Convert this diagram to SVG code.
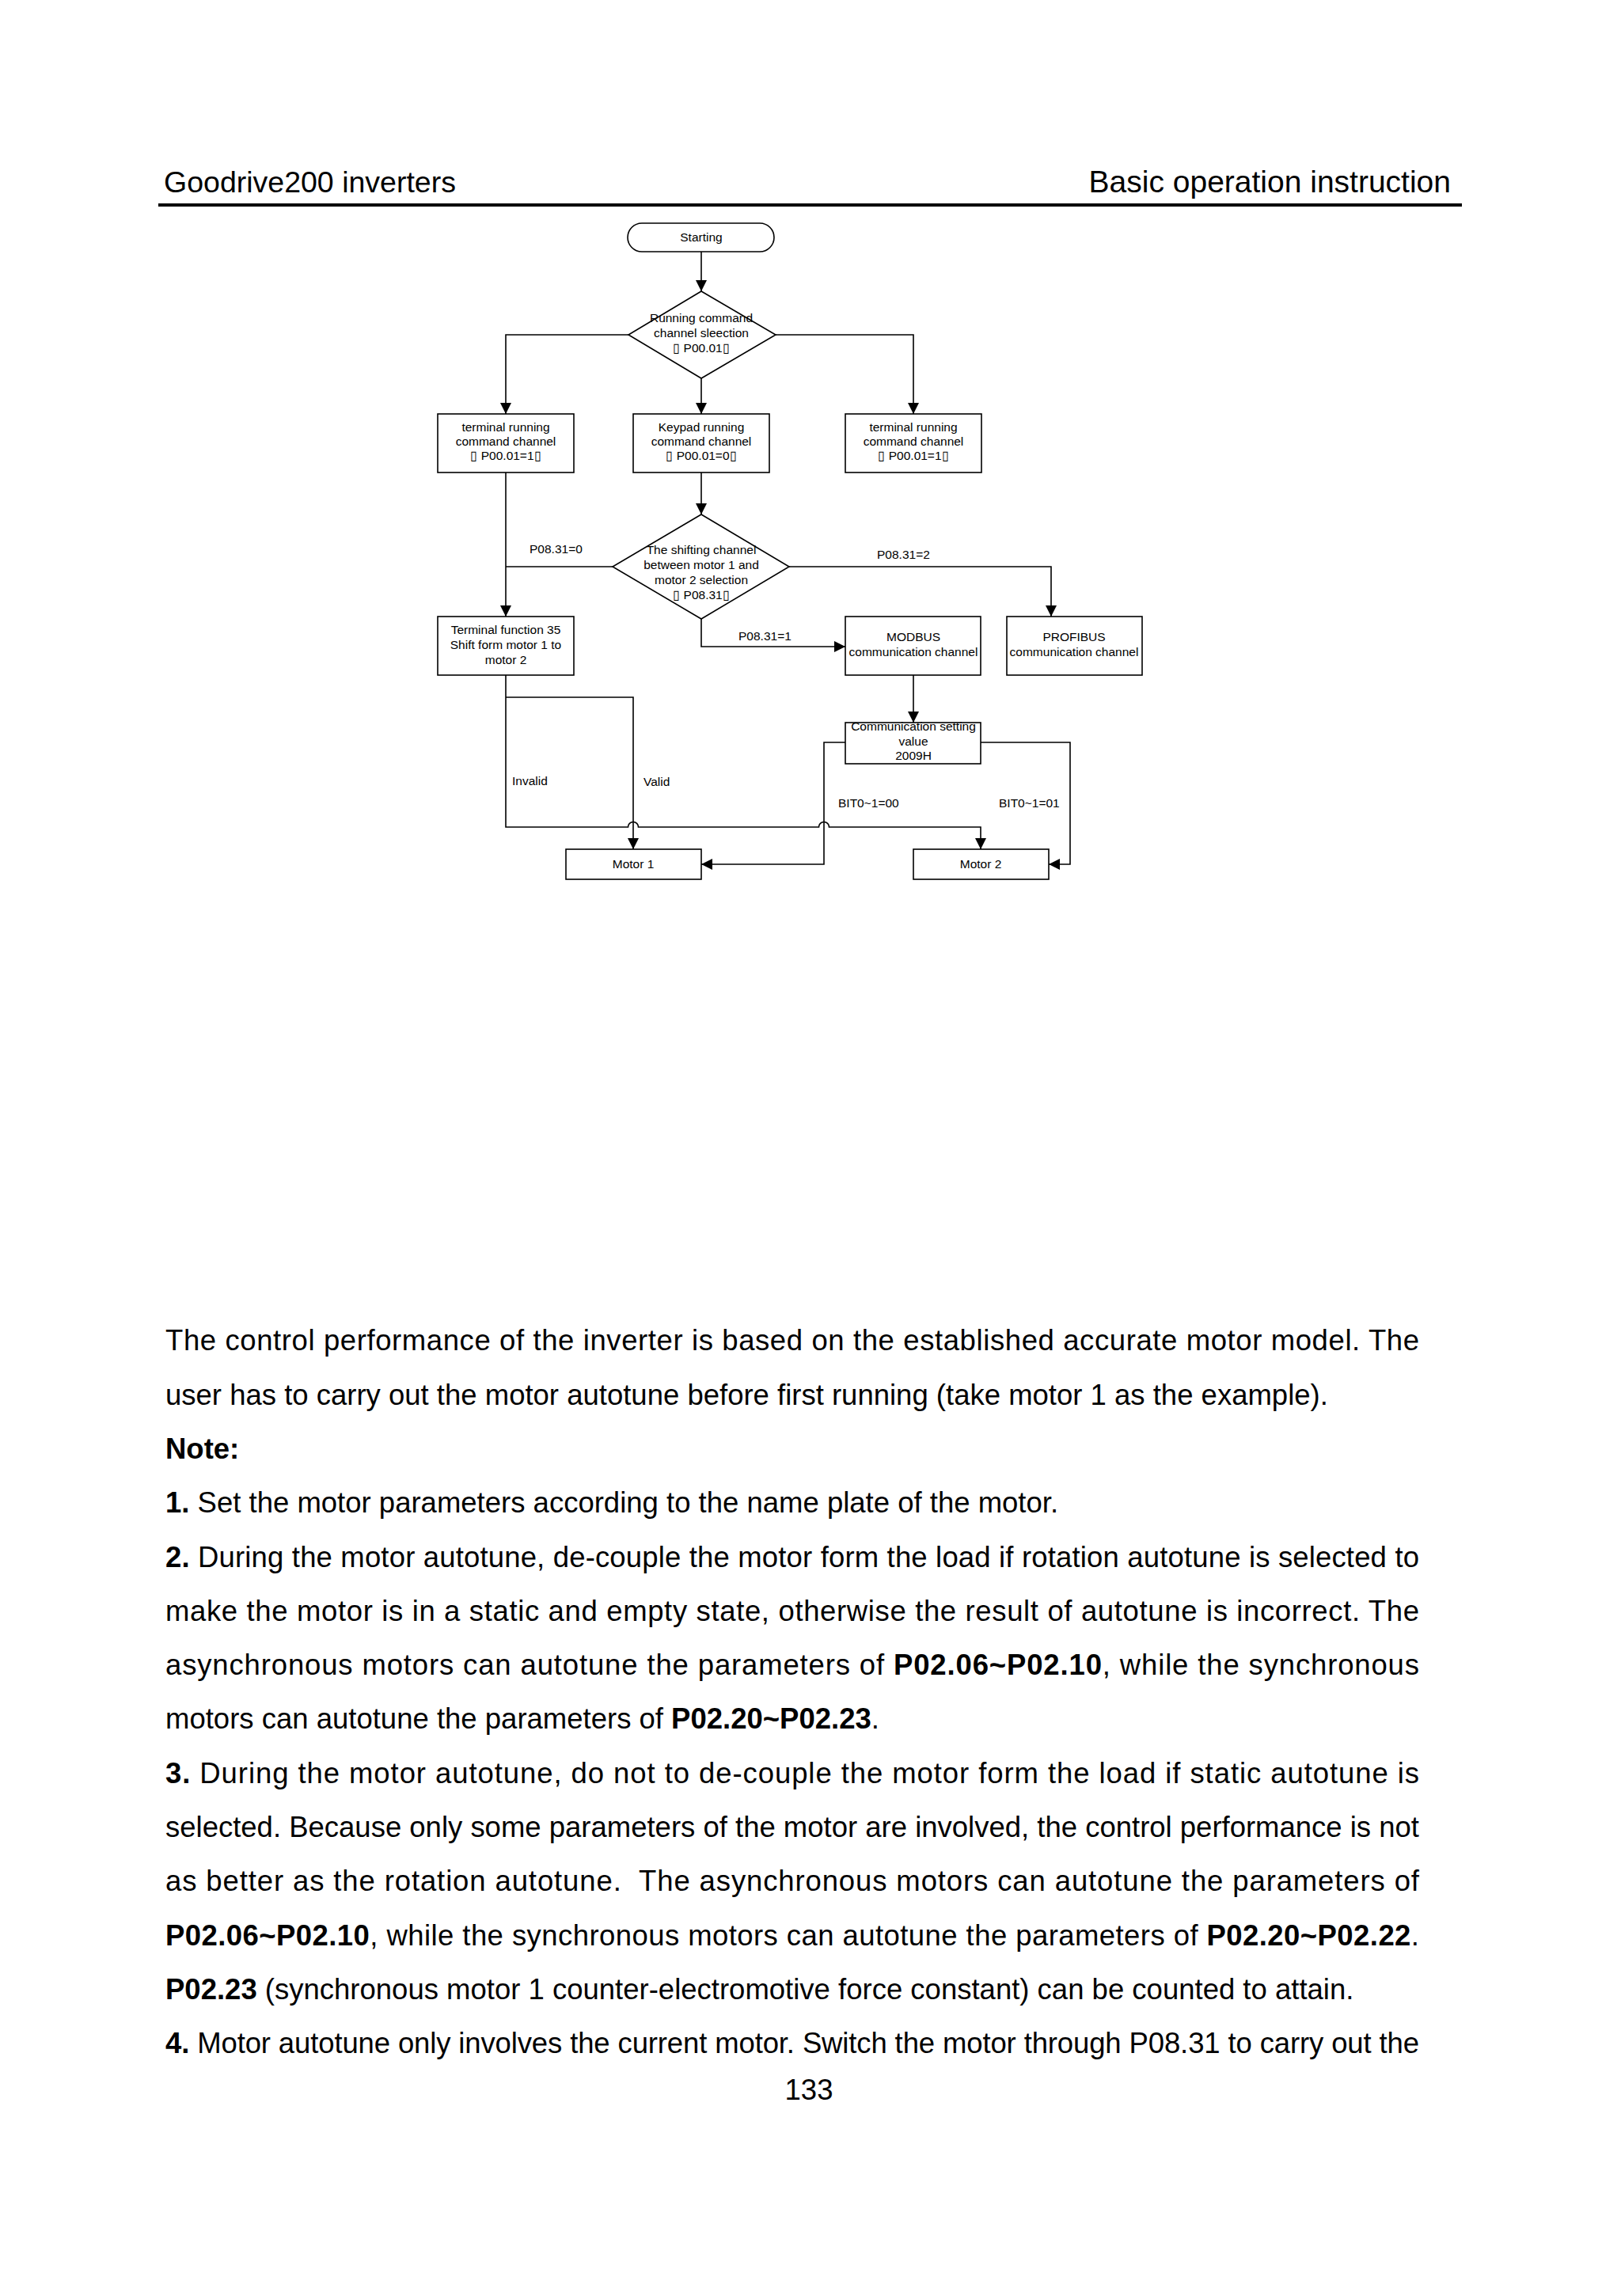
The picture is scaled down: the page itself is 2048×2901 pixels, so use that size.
<svg xmlns="http://www.w3.org/2000/svg" width="2048" height="2901" viewBox="0 0 2048 2901">
<style>
.bg{fill:#fff}
.nd{fill:#fff;stroke:#000;stroke-width:1.6}
.cn{fill:none;stroke:#000;stroke-width:1.6}
.ar{marker-end:url(#arr)}
.t{font-family:"Liberation Sans",Arial,sans-serif;font-size:15.5px;fill:#000}
.m{text-anchor:middle}
.hd{font-family:"Liberation Sans",Arial,sans-serif;font-size:37.5px;fill:#000}
.bd{font-family:"Liberation Sans",Arial,sans-serif;font-size:36.5px;fill:#000}
.b{font-weight:bold}
</style>
<defs>
<marker id="arr" markerUnits="userSpaceOnUse" markerWidth="14" markerHeight="14" refX="14" refY="7" orient="auto" viewBox="0 0 14 14">
<path d="M0,0 L14,7 L0,14 z" fill="#000"/>
</marker>
</defs>
<rect class="bg" x="0" y="0" width="2048" height="2901"/>

<g id="header">
<text class="hd" x="207" y="243">Goodrive200 inverters</text>
<text class="hd" x="1833" y="243" text-anchor="end" style="font-size:39px">Basic operation instruction</text>
<line x1="200" y1="259" x2="1847" y2="259" stroke="#000" stroke-width="4"/>
</g>

<g id="connectors">
<path class="cn ar" d="M886,318 V368"/>
<path class="cn ar" d="M794,423 H639 V523"/>
<path class="cn ar" d="M886,478 V523"/>
<path class="cn ar" d="M980,423 H1154 V523"/>
<path class="cn ar" d="M886,597 V650"/>
<path class="cn ar" d="M639,597 V779"/>
<path class="cn" d="M774,716 H639"/>
<path class="cn ar" d="M997,716 H1328 V779"/>
<path class="cn ar" d="M886,782 V817 H1068"/>
<path class="cn ar" d="M1154,853 V913"/>
<path class="cn ar" d="M639,853 V1045 H793.5 A6.5,6.5 0 0 1 806.5,1045 H1034.5 A6.5,6.5 0 0 1 1047.5,1045 H1239 V1073"/>
<path class="cn ar" d="M639,881 H800 V1073"/>
<path class="cn ar" d="M1068,938 H1041 V1092 H886"/>
<path class="cn ar" d="M1239,938 H1352 V1092 H1325"/>
<text class="t" x="669" y="698.5">P08.31=0</text>
<text class="t" x="1108" y="705.5">P08.31=2</text>
<text class="t" x="933" y="808.5">P08.31=1</text>
<text class="t" x="647" y="991.5">Invalid</text>
<text class="t" x="813" y="992.5">Valid</text>
<text class="t" x="1059" y="1020">BIT0~1=00</text>
<text class="t" x="1262" y="1019.5">BIT0~1=01</text>
</g>

<g id="start">
<rect class="nd" x="793" y="282" width="185" height="36" rx="18" ry="18"/>
<text class="t m" x="886" y="304.5">Starting</text>
</g>

<g id="cmd-select">
<polygon class="nd" points="886,368 980,423 886,478 794,423"/>
<text class="t m" x="886" y="407">Running command</text>
<text class="t m" x="886" y="426">channel sleection</text>
<text class="t m" x="886" y="445">▯ P00.01▯</text>
</g>

<g id="terminal-left">
<rect class="nd" x="553" y="523" width="172" height="74"/>
<text class="t m" x="639" y="545">terminal running</text>
<text class="t m" x="639" y="563">command channel</text>
<text class="t m" x="639" y="581">▯ P00.01=1▯</text>
</g>

<g id="keypad">
<rect class="nd" x="800" y="523" width="172" height="74"/>
<text class="t m" x="886" y="545">Keypad running</text>
<text class="t m" x="886" y="563">command channel</text>
<text class="t m" x="886" y="581">▯ P00.01=0▯</text>
</g>

<g id="terminal-right">
<rect class="nd" x="1068" y="523" width="172" height="74"/>
<text class="t m" x="1154" y="545">terminal running</text>
<text class="t m" x="1154" y="563">command channel</text>
<text class="t m" x="1154" y="581">▯ P00.01=1▯</text>
</g>

<g id="motor-select">
<polygon class="nd" points="886,650 997,716 886,782 774,716"/>
<text class="t m" x="886" y="699.5">The shifting channel</text>
<text class="t m" x="886" y="718.5">between motor 1 and</text>
<text class="t m" x="886" y="737.5">motor 2 selection</text>
<text class="t m" x="886" y="756.5">▯ P08.31▯</text>
</g>

<g id="terminal-func">
<rect class="nd" x="553" y="779" width="172" height="74"/>
<text class="t m" x="639" y="801">Terminal function 35</text>
<text class="t m" x="639" y="820">Shift form motor 1 to</text>
<text class="t m" x="639" y="839">motor 2</text>
</g>

<g id="modbus">
<rect class="nd" x="1068" y="779" width="171" height="74"/>
<text class="t m" x="1154" y="810">MODBUS</text>
<text class="t m" x="1154" y="828.5">communication channel</text>
</g>

<g id="profibus">
<rect class="nd" x="1272" y="779" width="171" height="74"/>
<text class="t m" x="1357" y="810">PROFIBUS</text>
<text class="t m" x="1357" y="828.5">communication channel</text>
</g>

<g id="comm-setting">
<rect class="nd" x="1068" y="913" width="171" height="52"/>
<text class="t m" x="1154" y="923">Communication setting</text>
<text class="t m" x="1154" y="942">value</text>
<text class="t m" x="1154" y="960">2009H</text>
</g>

<g id="motor1">
<rect class="nd" x="715" y="1073" width="171" height="38"/>
<text class="t m" x="800" y="1096.5">Motor 1</text>
</g>

<g id="motor2">
<rect class="nd" x="1154" y="1073" width="171" height="38"/>
<text class="t m" x="1239" y="1096.5">Motor 2</text>
</g>

<g id="body">
<text class="bd" x="209" y="1706.3" textLength="1584" lengthAdjust="spacing">The control performance of the inverter is based on the established accurate motor model. The</text>
<text class="bd" x="209" y="1774.6">user has to carry out the motor autotune before first running (take motor 1 as the example).</text>
<text class="bd b" x="209" y="1842.9">Note:</text>
<text class="bd" x="209" y="1911.2"><tspan class="b">1.</tspan> Set the motor parameters according to the name plate of the motor.</text>
<text class="bd" x="209" y="1979.5" textLength="1584" lengthAdjust="spacing"><tspan class="b">2.</tspan> During the motor autotune, de-couple the motor form the load if rotation autotune is selected to</text>
<text class="bd" x="209" y="2047.8" textLength="1584" lengthAdjust="spacing">make the motor is in a static and empty state, otherwise the result of autotune is incorrect. The</text>
<text class="bd" x="209" y="2116.1" textLength="1584" lengthAdjust="spacing">asynchronous motors can autotune the parameters of <tspan class="b">P02.06~P02.10</tspan>, while the synchronous</text>
<text class="bd" x="209" y="2184.4">motors can autotune the parameters of <tspan class="b">P02.20~P02.23</tspan>.</text>
<text class="bd" x="209" y="2252.7" textLength="1584" lengthAdjust="spacing"><tspan class="b">3.</tspan> During the motor autotune, do not to de-couple the motor form the load if static autotune is</text>
<text class="bd" x="209" y="2321" textLength="1584" lengthAdjust="spacing">selected. Because only some parameters of the motor are involved, the control performance is not</text>
<text class="bd" x="209" y="2389.3" textLength="1584" lengthAdjust="spacing" style="white-space:pre">as better as the rotation autotune.  The asynchronous motors can autotune the parameters of</text>
<text class="bd" x="209" y="2457.6" textLength="1584" lengthAdjust="spacing"><tspan class="b">P02.06~P02.10</tspan>, while the synchronous motors can autotune the parameters of <tspan class="b">P02.20~P02.22</tspan>.</text>
<text class="bd" x="209" y="2525.9"><tspan class="b">P02.23</tspan> (synchronous motor 1 counter-electromotive force constant) can be counted to attain.</text>
<text class="bd" x="209" y="2594.2" textLength="1584" lengthAdjust="spacing"><tspan class="b">4.</tspan> Motor autotune only involves the current motor. Switch the motor through P08.31 to carry out the</text>
<text class="bd" x="1022" y="2653" text-anchor="middle">133</text>
</g>
</svg>
